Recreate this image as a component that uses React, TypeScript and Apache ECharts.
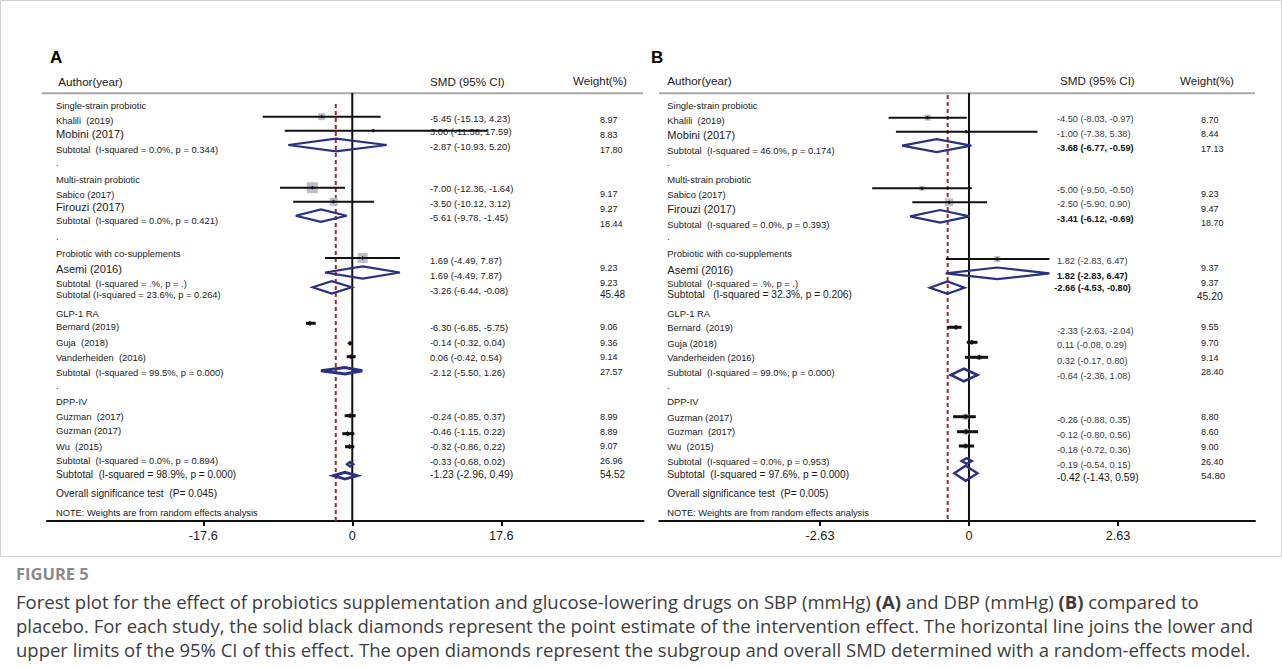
import React, { useEffect, useRef } from "react";
import * as echarts from "echarts";

const FONT = "'Liberation Sans', Arial, Helvetica, sans-serif";
const CAP_FONT = "'Open Sans', 'Noto Sans', sans-serif";

// ---------------- Panel A (SBP) ----------------
const leftA = [
  "Single-strain probiotic", "Khalili  (2019)", "Mobini (2017)", "Subtotal  (I-squared = 0.0%, p = 0.344)", ".",
  "Multi-strain probiotic", "Sabico (2017)", "Firouzi (2017)", "Subtotal  (I-squared = 0.0%, p = 0.421)", ".",
  "Probiotic with co-supplements", "Asemi (2016)", "Subtotal  (I-squared = .%, p = .)", "Subtotal (I-squared = 23.6%, p = 0.264)", ".",
  "GLP-1 RA", "Bernard (2019)", "Guja  (2018)", "Vanderheiden  (2016)", "Subtotal  (I-squared = 99.5%, p = 0.000)", ".",
  "DPP-IV", "Guzman  (2017)", "Guzman (2017)", "Wu  (2015)", "Subtotal  (I-squared = 0.0%, p = 0.894)",
  "Subtotal  (I-squared = 98.9%, p = 0.000)", "Overall significance test  (P= 0.045)", "NOTE: Weights are from random effects analysis",
];
const ciA = [
  "-5.45 (-15.13, 4.23)", "3.00 (-11.58, 17.59)", "-2.87 (-10.93, 5.20)",
  "-7.00 (-12.36, -1.64)", "-3.50 (-10.12, 3.12)", "-5.61 (-9.78, -1.45)",
  "1.69 (-4.49, 7.87)", "1.69 (-4.49, 7.87)", "-3.26 (-6.44, -0.08)",
  "-6.30 (-6.85, -5.75)", "-0.14 (-0.32, 0.04)", "0.06 (-0.42, 0.54)", "-2.12 (-5.50, 1.26)",
  "-0.24 (-0.85, 0.37)", "-0.46 (-1.15, 0.22)", "-0.32 (-0.86, 0.22)", "-0.33 (-0.68, 0.02)", "-1.23 (-2.96, 0.49)",
];
const weightA = ["8.97", "8.83", "17.80", "9.17", "9.27", "18.44", "9.23", "9.23", "45.48", "9.06", "9.36", "9.14", "27.57", "8.99", "8.89", "9.07", "26.96", "54.52"];
// plotted study estimates (as drawn in the picture)
const studiesA = ["Khalili", "Mobini", "Sabico", "Firouzi", "Asemi", "Bernard", "Guja", "Vanderheiden", "Guzman", "Guzman", "Wu"];
const estA = [-3.61, 2.48, -4.72, -2.2, 1.23, -5.0, -0.27, -0.15, -0.27, -0.54, -0.31];
const loA = [-10.58, -7.98, -8.54, -6.97, -3.22, -5.47, -0.43, -0.66, -0.9, -1.18, -0.86];
const hiA = [3.35, 16.0, -0.86, 2.56, 5.63, -4.32, -0.07, 0.4, 0.4, 0.24, 0.24];
// plotted subtotal diamonds
const subsA = ["Single-strain", "Multi-strain", "Asemi", "Co-supplements", "GLP-1 RA", "DPP-IV", "Overall"];
const subEstA = [-1.92, -3.7, 1.23, -2.43, -0.86, -0.27, -0.86];
const subLoA = [-7.56, -6.68, -3.22, -4.68, -3.7, -0.6, -2.24];
const subHiA = [4.06, -0.66, 5.63, -0.07, 1.18, 0.1, 0.59];
const refA = -1.95;
const ticksA = [-17.6, 0, 17.6];
const tickLabelsA = ["-17.6", "0", "17.6"];

// ---------------- Panel B (DBP) ----------------
const leftB = [
  "Single-strain probiotic", "Khalili  (2019)", "Mobini (2017)", "Subtotal  (I-squared = 46.0%, p = 0.174)", ".",
  "Multi-strain probiotic", "Sabico (2017)", "Firouzi (2017)", "Subtotal  (I-squared = 0.0%, p = 0.393)", ".",
  "Probiotic with co-supplements", "Asemi (2016)", "Subtotal  (I-squared = .%, p = .)", "Subtotal   (I-squared = 32.3%, p = 0.206)", ".",
  "GLP-1 RA", "Bernard  (2019)", "Guja (2018)", "Vanderheiden (2016)", "Subtotal  (I-squared = 99.0%, p = 0.000)", ".",
  "DPP-IV", "Guzman (2017)", "Guzman  (2017)", "Wu  (2015)", "Subtotal  (I-squared = 0.0%, p = 0.953)",
  "Subtotal  (I-squared = 97.6%, p = 0.000)", "Overall significance test  (P= 0.005)", "NOTE: Weights are from random effects analysis",
];
const ciB = [
  "-4.50 (-8.03, -0.97)", "-1.00 (-7.38, 5.38)", "-3.68 (-6.77, -0.59)",
  "-5.00 (-9.50, -0.50)", "-2.50 (-5.90, 0.90)", "-3.41 (-6.12, -0.69)",
  "1.82 (-2.83, 6.47)", "1.82 (-2.83, 6.47)", "-2.66 (-4.53, -0.80)",
  "-2.33 (-2.63, -2.04)", "0.11 (-0.08, 0.29)", "0.32 (-0.17, 0.80)", "-0.64 (-2.36, 1.08)",
  "-0.26 (-0.88, 0.35)", "-0.12 (-0.80, 0.56)", "-0.18 (-0.72, 0.36)", "-0.19 (-0.54, 0.15)", "-0.42 (-1.43, 0.59)",
];
const weightB = ["8.70", "8.44", "17.13", "9.23", "9.47", "18.70", "9.37", "9.37", "45.20", "9.55", "9.70", "9.14", "28.40", "8.80", "8.60", "9.00", "26.40", "54.80"];
const studiesB = ["Khalili", "Mobini", "Sabico", "Firouzi", "Asemi", "Bernard", "Guja", "Vanderheiden", "Guzman", "Guzman", "Wu"];
const estB = [-0.73, -0.05, -0.83, -0.35, 0.5, -0.23, 0.05, 0.18, -0.06, -0.05, -0.06];
const loB = [-1.42, -1.29, -1.71, -1.0, -0.41, -0.38, -0.04, -0.07, -0.28, -0.21, -0.18];
const hiB = [-0.04, 1.21, 0.05, 0.32, 1.42, -0.13, 0.15, 0.34, 0.12, 0.16, 0.09];
const subsB = ["Single-strain", "Multi-strain", "Asemi", "Co-supplements", "GLP-1 RA", "DPP-IV", "Overall"];
const subEstB = [-0.57, -0.51, 0.5, -0.38, -0.09, -0.04, -0.06];
const subLoB = [-1.18, -1.04, -0.41, -0.69, -0.32, -0.13, -0.26];
const subHiB = [0.04, 0.01, 1.42, -0.08, 0.15, 0.05, 0.15];
const refB = -0.376;
const ticksB = [-2.63, 0, 2.63];
const tickLabelsB = ["-2.63", "0", "2.63"];

// caption
const figureLabel = "FIGURE 5";
const captionLines = [
  "Forest plot for the effect of probiotics supplementation and glucose-lowering drugs on SBP (mmHg) {b|(A)} and DBP (mmHg) {b|(B)} compared to",
  "placebo. For each study, the solid black diamonds represent the point estimate of the intervention effect. The horizontal line joins the lower and",
  "upper limits of the 95% CI of this effect. The open diamonds represent the subgroup and overall SMD determined with a random-effects model.",
];

// ---------------- Layout (positions / sizes / styles) ----------------
const Y_TOP = 93;
const Y_BOT = 521;
const leftYA = [105, 120, 134.3, 149, 162.5, 179, 194, 206.7, 220, 236.5, 253.3, 269.3, 283.3, 294, 301.5, 313.3, 326.7, 342.7, 357.7, 372.3, 385, 401.7, 416.7, 430.7, 446, 460.7, 474, 493.3, 512.7];
const leftYB = [105, 120, 135, 150, 162.5, 179, 194, 209.3, 224, 236.5, 253.3, 270, 283.3, 294, 301.5, 313.3, 327.3, 343.3, 357.7, 372.7, 385, 401.7, 417.3, 431.7, 446.7, 461.7, 474.3, 493.3, 513.3];
const bigLeftA: Record<number, number> = { 2: 11.1, 7: 11.1, 11: 11.1, 14: 6, 26: 10.1, 27: 10.2, 28: 9.3 };
const bigLeftB: Record<number, number> = { 2: 11.1, 7: 11.1, 11: 11.1, 13: 10.2, 14: 6, 26: 10.2, 27: 10.2, 28: 9.3 };
const ciYA = [118.3, 131.7, 146.7, 188.3, 203.3, 217.7, 260, 275, 290, 327.3, 342.7, 357.3, 372.3, 416.7, 431.7, 446, 461, 474];
const wYA = [120, 135, 150, 194, 209.3, 224, 268.3, 282.7, 294, 327.3, 342.7, 357.3, 372.3, 416.7, 431.7, 446, 461, 474];
const ciYB = [119.3, 134, 148.3, 190, 204.3, 219, 260.7, 275.7, 288.3, 331, 345, 361, 375.7, 420, 435, 450, 465, 477.7];
const wYB = [120, 134.3, 149.3, 194, 209, 223.3, 268.3, 283.3, 296.7, 327.3, 342.7, 357.7, 372.3, 417.3, 431.7, 446.7, 461.7, 475.7];
const boldCiB = [2, 5, 7, 8];
const studyYA = [116.7, 130.7, 187.7, 201.7, 258, 323.3, 343.3, 356.7, 415.7, 433.7, 446.7];
const studyYB = [117.7, 131.7, 188.3, 202.3, 259, 327.3, 342.3, 357.3, 416.7, 431.7, 446];
const boxA = [7, 3, 11, 8, 10, 0, 0, 0, 0, 0, 0];
const boxB = [6, 3, 5, 8, 6, 4, 4, 5, 6, 6, 5];
const lwA = [2, 2, 2, 2, 2, 3, 3, 3, 3, 3, 3];
const lwB = [2, 2, 2, 2, 2, 3, 3, 3, 3, 3, 3];
const subYA = [145, 215.7, 272.5, 287.3, 370.7, 464.3, 475.7];
const subYB = [145.7, 216.3, 273.3, 287.7, 375, 461, 473.3];
const subHA = [6.3, 6.2, 6.2, 6.2, 3.2, 2.2, 3.4];
const subHB = [6.5, 6.3, 5.8, 6.2, 6.3, 2.8, 7.5];
const subLwA = [2.2, 2.2, 2.2, 2.2, 3, 2.6, 2.8];
const subLwB = [2.2, 2.2, 2.2, 2.2, 2.6, 2.4, 2.4];

const NAVY = "#2b3182";
const RED = "#a3282e";
const GRAY_BOX = "#b9c0c9";
const CAP_COLOR = "#3c3c3c";
const CAP_SIZE = 18.5;

function txt(text: string, x: number, y: number, size: number, o: any = {}) {
  return {
    type: "text",
    x,
    y,
    silent: true,
    z: 1,
    style: {
      text,
      fontSize: size,
      fontFamily: o.font || FONT,
      fontWeight: o.bold ? "bold" : "normal",
      fill: o.fill || "#1a1a1a",
      align: o.align || "left",
      verticalAlign: "middle",
      rich: o.rich,
    },
  };
}

function studyRender(params: any, api: any) {
  const est = api.value(0);
  const lo = api.value(1);
  const hi = api.value(2);
  const y = api.value(3);
  const box = api.value(4);
  const lw = api.value(5);
  const pe = api.coord([est, y]);
  const pl = api.coord([lo, y]);
  const ph = api.coord([hi, y]);
  const children: any[] = [];
  if (box > 0) {
    children.push({
      type: "rect",
      shape: { x: pe[0] - box / 2, y: pe[1] - box / 2, width: box, height: box },
      style: { fill: GRAY_BOX },
    });
  }
  children.push({
    type: "line",
    shape: { x1: pl[0], y1: pl[1], x2: ph[0], y2: ph[1] },
    style: { stroke: "#111", lineWidth: lw },
  });
  const r = lw > 2.5 ? 2.6 : 1.9;
  children.push({
    type: "polygon",
    shape: { points: [[pe[0] - r, pe[1]], [pe[0], pe[1] - r], [pe[0] + r, pe[1]], [pe[0], pe[1] + r]] },
    style: { fill: "#111" },
  });
  return { type: "group", children };
}

function diamondRender(params: any, api: any) {
  const est = api.value(0);
  const lo = api.value(1);
  const hi = api.value(2);
  const y = api.value(3);
  const h = api.value(4);
  const lw = api.value(5);
  const pe = api.coord([est, y]);
  const pl = api.coord([lo, y]);
  const ph = api.coord([hi, y]);
  return {
    type: "polygon",
    shape: { points: [[pl[0], pl[1]], [pe[0], pe[1] - h], [ph[0], ph[1]], [pe[0], pe[1] + h]] },
    style: { fill: "none", stroke: NAVY, lineWidth: lw, lineJoin: "miter" },
  };
}

function xAxisCfg(grid: number, min: number, max: number, ticks: number[], labels: string[]) {
  return {
    gridIndex: grid,
    type: "value",
    min,
    max,
    splitLine: { show: false },
    axisLine: { show: true, onZero: false, lineStyle: { color: "#111", width: 2 } },
    axisTick: { show: true, length: 5, customValues: ticks, lineStyle: { color: "#111", width: 2 } },
    axisLabel: {
      customValues: ticks,
      margin: 8,
      fontSize: 12.7,
      fontFamily: FONT,
      color: "#1a1a1a",
      formatter: (v: number) => {
        const i = ticks.findIndex((t) => Math.abs(t - v) < 1e-6);
        return i >= 0 ? labels[i] : "";
      },
    },
  };
}

function buildOption() {
  const graphics: any[] = [];
  // outer border
  graphics.push({
    type: "rect",
    silent: true,
    z: 0,
    shape: { x: 0.5, y: 0.5, width: 1281, height: 556 },
    style: { fill: "none", stroke: "#d2d2d2", lineWidth: 1 },
  });
  // panel letters
  graphics.push(txt("A", 50, 57.5, 17, { bold: true, fill: "#000" }));
  graphics.push(txt("B", 651, 57.5, 17, { bold: true, fill: "#000" }));
  // headers
  graphics.push(txt("Author(year)", 58.3, 81, 11.6));
  graphics.push(txt("SMD (95% CI)", 430, 81.5, 11.6));
  graphics.push(txt("Weight(%)", 573, 80.7, 11.6));
  graphics.push(txt("Author(year)", 667.3, 80.7, 11.6));
  graphics.push(txt("SMD (95% CI)", 1060, 80.7, 11.6));
  graphics.push(txt("Weight(%)", 1180, 80.7, 11.6));
  // header rules
  graphics.push({ type: "line", silent: true, z: 0, shape: { x1: 42, y1: 93.3, x2: 643, y2: 93.3 }, style: { stroke: "#a9a9a9", lineWidth: 2 } });
  graphics.push({ type: "line", silent: true, z: 0, shape: { x1: 659, y1: 93.3, x2: 1255, y2: 93.3 }, style: { stroke: "#a9a9a9", lineWidth: 2 } });

  leftA.forEach((t, i) => graphics.push(txt(t, 56, leftYA[i], bigLeftA[i] || 9.4)));
  leftB.forEach((t, i) => graphics.push(txt(t, 667.3, leftYB[i], bigLeftB[i] || 9.4)));
  ciA.forEach((t, i) => graphics.push(txt(t, 430, ciYA[i], i === ciA.length - 1 ? 10.4 : 9.4)));
  weightA.forEach((t, i) => graphics.push(txt(t, 600, wYA[i], i === 8 || i === 17 ? 10 : 9)));
  ciB.forEach((t, i) => {
    const bold = boldCiB.indexOf(i) >= 0;
    const last = i === ciB.length - 1;
    const x = i === 8 ? 1054.3 : 1057;
    graphics.push(txt(t, x, ciYB[i], last ? 10.2 : 9.2, { bold, fill: bold || last ? "#111" : "#3a3a3a" }));
  });
  weightB.forEach((t, i) => {
    const x = i === 8 ? 1196.7 : 1201;
    const s = i === 8 ? 10.4 : i === 17 ? 9.7 : 9;
    graphics.push(txt(t, x, wYB[i], s, { fill: "#222" }));
  });

  // caption
  graphics.push(txt(figureLabel, 16, 573, 16.5, { font: CAP_FONT, fill: "#8a8a8a", bold: true }));
  const capRich = { b: { fontWeight: "bold", fontSize: CAP_SIZE, fontFamily: CAP_FONT, fill: CAP_COLOR } };
  captionLines.forEach((c, i) =>
    graphics.push(txt(c, 16, 601 + i * 24, CAP_SIZE, { font: CAP_FONT, fill: CAP_COLOR, rich: capRich }))
  );

  const studyDataA = estA.map((e, i) => ({ name: studiesA[i], value: [e, loA[i], hiA[i], studyYA[i], boxA[i], lwA[i]] }));
  const studyDataB = estB.map((e, i) => ({ name: studiesB[i], value: [e, loB[i], hiB[i], studyYB[i], boxB[i], lwB[i]] }));
  const subDataA = subEstA.map((e, i) => ({ name: subsA[i], value: [e, subLoA[i], subHiA[i], subYA[i], subHA[i], subLwA[i]] }));
  const subDataB = subEstB.map((e, i) => ({ name: subsB[i], value: [e, subLoB[i], subHiB[i], subYB[i], subHB[i], subLwB[i]] }));

  const vline = (xi: number, x: number, y0: number, color: string, type: any, w: number) => ({
    type: "line",
    xAxisIndex: xi,
    yAxisIndex: xi,
    silent: true,
    symbol: "none",
    z: 2,
    data: [[x, y0], [x, Y_BOT]],
    lineStyle: { color, width: w, type },
  });

  return {
    animation: false,
    backgroundColor: "#ffffff",
    graphic: graphics,
    grid: [
      { left: 47, top: Y_TOP, width: 596.5, height: Y_BOT - Y_TOP },
      { left: 659.3, top: Y_TOP, width: 595.7, height: Y_BOT - Y_TOP },
    ],
    xAxis: [
      xAxisCfg(0, -36.06, 34.4, ticksA, tickLabelsA),
      xAxisCfg(1, -5.467, 5.049, ticksB, tickLabelsB),
    ],
    yAxis: [
      { gridIndex: 0, type: "value", min: Y_TOP, max: Y_BOT, inverse: true, show: false },
      { gridIndex: 1, type: "value", min: Y_TOP, max: Y_BOT, inverse: true, show: false },
    ],
    series: [
      vline(0, 0, Y_TOP, "#111", "solid", 2),
      vline(0, refA, 104, RED, [4, 3], 2),
      vline(1, 0, Y_TOP, "#111", "solid", 2),
      vline(1, refB, 95, RED, [4, 3], 2),
      {
        type: "custom", xAxisIndex: 0, yAxisIndex: 0, z: 3, silent: true,
        encode: { x: [0, 1, 2], y: 3 }, renderItem: studyRender, data: studyDataA,
      },
      {
        type: "custom", xAxisIndex: 1, yAxisIndex: 1, z: 3, silent: true,
        encode: { x: [0, 1, 2], y: 3 }, renderItem: studyRender, data: studyDataB,
      },
      {
        type: "custom", xAxisIndex: 0, yAxisIndex: 0, z: 4, silent: true,
        encode: { x: [0, 1, 2], y: 3 }, renderItem: diamondRender, data: subDataA,
      },
      {
        type: "custom", xAxisIndex: 1, yAxisIndex: 1, z: 4, silent: true,
        encode: { x: [0, 1, 2], y: 3 }, renderItem: diamondRender, data: subDataB,
      },
    ],
  };
}

export default function App() {
  const ref = useRef<HTMLDivElement>(null);
  useEffect(() => {
    const chart = echarts.init(ref.current!, undefined, { renderer: "svg" });
    chart.setOption(buildOption() as any);
    return () => chart.dispose();
  }, []);
  return (
    <div
      ref={ref}
      style={{ position: "fixed", left: 0, top: 0, width: 1282, height: 668, background: "#fff" }}
    />
  );
}
